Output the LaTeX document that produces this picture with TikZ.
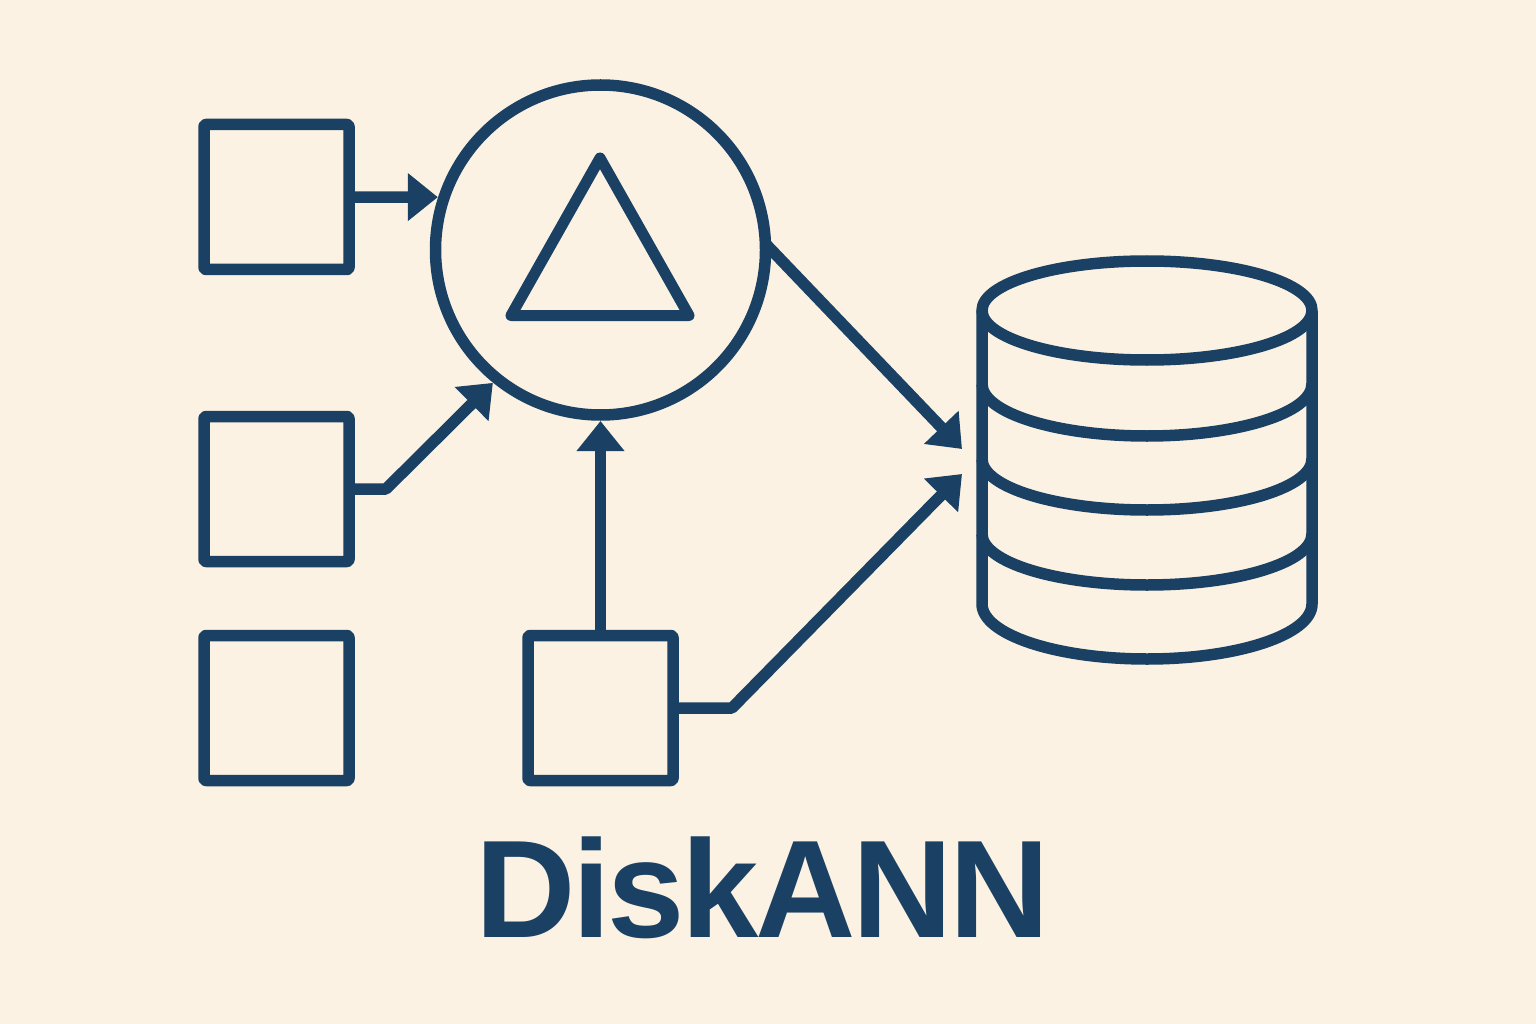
\documentclass[tikz,border=0pt]{standalone}
\usepackage{xcolor}
\usepackage{fontspec}
\setmainfont{Liberation Sans}
\newfontfamily\titlefont[LetterSpace=-2.4]{Liberation Sans}
\usetikzlibrary{arrows.meta}
\definecolor{inkblue}{HTML}{1A4063}
\definecolor{paper}{HTML}{FBF2E3}

\begin{document}
\begin{tikzpicture}[x=1pt,y=-1pt,
    line width=11.5pt, line join=round,
    every node/.style={inner sep=0pt, outer sep=0pt},
    blockbox/.style={draw=inkblue, rounded corners=2pt, minimum width=145pt, minimum height=145pt, line width=11.5pt},
    flow/.style={draw=inkblue, line width=11.5pt, -{Triangle[length=30pt,width=46pt]}}]
  % Canvas
  \fill[paper] (0,0) rectangle (1536,1024);
  \useasboundingbox (0,0) rectangle (1536,1024);

  % Input blocks
  \node[blockbox] (blockA) at (276.5,197) {};
  \node[blockbox] (blockB) at (276.5,489) {};
  \node[blockbox] (blockC) at (276.5,708) {};
  \node[blockbox] (blockD) at (600.5,708) {};

  % Circle with triangle inside
  \node[draw=inkblue, circle, line width=11.5pt, minimum size=330pt, outer sep=6pt] (hub) at (600.5,250) {};
  \draw[inkblue, line width=11pt] (600,158) -- (511,315.5) -- (689,315.5) -- cycle;

  % Database cylinder
  \draw[inkblue] (982,310.5) -- (982,604) arc[start angle=180, end angle=360, x radius=165pt, y radius=55pt] -- (1312,310.5);
  \draw[inkblue] (1147,310.5) ellipse (165pt and 49.5pt);
  \draw[inkblue] (982,384) arc[start angle=180, end angle=360, x radius=165pt, y radius=52pt];
  \draw[inkblue] (982,459) arc[start angle=180, end angle=360, x radius=165pt, y radius=51pt];
  \draw[inkblue] (982,534) arc[start angle=180, end angle=360, x radius=165pt, y radius=51pt];
  \coordinate (dbtop) at (962,449);
  \coordinate (dbbot) at (962,474);

  % Connectors
  \draw[flow] (blockA.east) -- (hub.162);
  \draw[flow] (blockB.east) -- (386,489) -- (hub.231);
  \draw[flow] (blockD.north) -- (hub.south);
  \draw[flow, shorten <=-9pt] (hub.east) -- (dbtop);
  \draw[flow] (blockD.east) -- (732,708) -- (dbbot);

  % Title
  \node[font=\fontsize{139}{139}\selectfont\titlefont\bfseries, text=inkblue] (title) at (763,888) {DiskANN};
\end{tikzpicture}
\end{document}
